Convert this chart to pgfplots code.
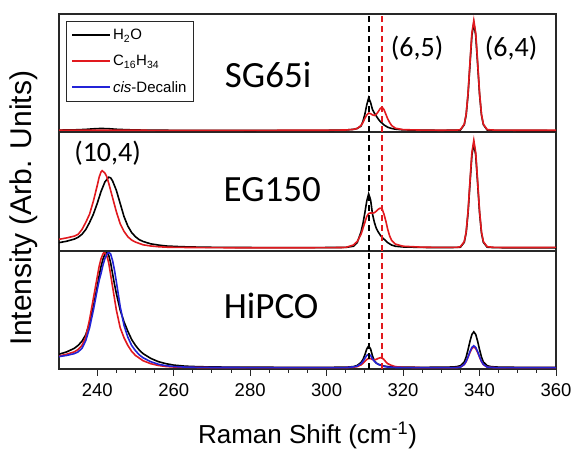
\documentclass[border=0pt]{standalone}
\usepackage{pgfplots}
\pgfplotsset{compat=1.18}
\usepackage{fontspec}
\setmainfont{Liberation Sans}
\newfontfamily\calfont{Carlito}
\definecolor{mred}{RGB}{225,25,30}
\definecolor{mblue}{RGB}{35,35,215}
\definecolor{frm}{RGB}{40,40,40}
\pgfplotsset{
  panel/.style={
    scale only axis, width=497pt,
    xmin=230, xmax=360, ymin=0, ymax=1,
    axis line style={frm, line width=1.3pt},
    tick style={frm, line width=1pt},
    tick align=outside,
    major tick length=7pt, minor tick length=4pt,
    xtick pos=bottom, ytick pos=left,
    ytick=\empty,
    /pgf/number format/assume math mode=true,
    every axis plot/.append style={line width=1.6pt},
    clip=true,
  },
  vdash/.style={line width=1.7pt, dash pattern=on 6pt off 4pt, forget plot},
}
\begin{document}
\begin{tikzpicture}
\useasboundingbox (0,0) rectangle (575pt,449pt);

% ---------------- bottom panel: HiPCO ----------------
\begin{axis}[panel, at={(59pt,80pt)}, anchor=south west, height=118pt,
  xtick={240,260,...,360}, minor x tick num=3,
  minor ytick={0.39,0.8},
  xticklabel style={font=\fontsize{18.5}{18.5}\selectfont, yshift=-4pt},
  xlabel={Raman Shift (cm\textsuperscript{-1})},
  xlabel style={font=\fontsize{26}{26}\selectfont, at={(axis description cs:0.5,-0.56)}, anchor=center},
]
\addplot[black] coordinates {(230,0.125) (232,0.145) (234,0.175) (235,0.2) (236,0.235) (237,0.29) (238,0.39) (239,0.53) (240,0.7) (240.5,0.79) (241,0.87) (241.5,0.93) (242,0.975) (242.5,0.99) (243,0.965) (243.5,0.9) (244,0.81) (244.5,0.72) (245,0.64) (246,0.5) (247,0.4) (248,0.32) (249,0.25) (250,0.2) (251,0.16) (252,0.13) (254,0.09) (256,0.062) (258,0.045) (260,0.033) (263,0.024) (266,0.02) (270,0.017) (280,0.015) (290,0.014) (300,0.014) (305,0.015) (307,0.02) (308,0.03) (309,0.055) (309.5,0.08) (310,0.12) (310.5,0.17) (311,0.195) (311.5,0.17) (312,0.11) (312.5,0.07) (313,0.05) (313.5,0.04) (314,0.035) (315,0.025) (316,0.02) (318,0.016) (320,0.015) (325,0.014) (330,0.015) (333,0.017) (334,0.02) (335,0.028) (336,0.059) (336.5,0.102) (337,0.165) (337.5,0.235) (338,0.293) (338.5,0.315) (339,0.293) (339.5,0.235) (340,0.165) (340.5,0.102) (341,0.059) (342,0.028) (343,0.02) (345,0.016) (350,0.014) (360,0.014)};
\addplot[mred] coordinates {(230,0.11) (232,0.125) (234,0.145) (235,0.165) (236,0.2) (237,0.27) (238,0.42) (239,0.6) (240,0.78) (240.5,0.87) (241,0.935) (241.5,0.975) (241.8,0.99) (242.5,0.96) (243,0.9) (243.5,0.8) (244,0.7) (245,0.5) (246,0.35) (247,0.265) (248,0.2) (249,0.15) (250,0.115) (252,0.07) (254,0.045) (256,0.03) (258,0.021) (260,0.017) (263,0.014) (270,0.012) (280,0.012) (290,0.012) (300,0.012) (305,0.012) (307,0.015) (308,0.02) (309,0.035) (309.5,0.048) (310,0.065) (310.5,0.08) (311,0.09) (311.5,0.088) (312,0.08) (312.5,0.078) (313,0.082) (313.5,0.09) (314,0.095) (314.5,0.095) (315,0.08) (315.5,0.06) (316,0.045) (317,0.03) (318,0.02) (320,0.014) (325,0.012) (330,0.012) (334,0.012) (335,0.016) (336,0.038) (336.5,0.063) (337,0.1) (337.5,0.141) (338,0.174) (338.5,0.187) (339,0.174) (339.5,0.141) (340,0.1) (340.5,0.063) (341,0.038) (342,0.016) (344,0.012) (350,0.012) (360,0.012)};
\addplot[mblue] coordinates {(230,0.105) (232,0.115) (234,0.13) (235,0.145) (236,0.175) (237,0.24) (238,0.35) (239,0.5) (240,0.67) (240.5,0.75) (241,0.81) (241.5,0.88) (242,0.935) (242.5,0.97) (243,0.99) (243.5,0.975) (244,0.92) (244.5,0.84) (245,0.74) (246,0.53) (247,0.37) (248,0.27) (249,0.2) (250,0.155) (251,0.12) (252,0.095) (254,0.062) (256,0.04) (258,0.028) (260,0.021) (263,0.016) (266,0.014) (270,0.013) (280,0.012) (290,0.012) (300,0.012) (305,0.012) (307,0.018) (308,0.025) (309,0.045) (309.5,0.065) (310,0.09) (310.5,0.115) (311,0.125) (311.5,0.115) (312,0.085) (312.5,0.065) (313,0.05) (313.5,0.04) (314,0.033) (315,0.022) (316,0.016) (318,0.013) (320,0.012) (325,0.012) (330,0.012) (334,0.012) (335,0.016) (336,0.039) (336.5,0.066) (337,0.104) (337.5,0.148) (338,0.183) (338.5,0.197) (339,0.183) (339.5,0.148) (340,0.104) (340.5,0.066) (341,0.039) (342,0.016) (344,0.012) (350,0.012) (360,0.012)};
\addplot[black, vdash] coordinates {(311.1,0) (311.1,1)};
\addplot[mred, vdash] coordinates {(314.4,0) (314.4,1)};
\node[font=\calfont\fontsize{37}{37}\selectfont] at (axis cs:285.5,0.534) {HiPCO};
\end{axis}

% ---------------- middle panel: EG150 ----------------
\begin{axis}[panel, at={(59pt,198pt)}, anchor=south west, height=119pt,
  xtick=\empty,
  minor ytick={0.186,0.372,0.558,0.744,0.93},
  ylabel={Intensity (Arb. Units)},
  ylabel style={font=\fontsize{30}{30}\selectfont, at={(axis description cs:-0.0704,0.361)}, anchor=center},
]
\addplot[black] coordinates {(230,0.07) (232,0.082) (234,0.1) (235,0.115) (236,0.14) (237,0.18) (238,0.24) (239,0.31) (240,0.4) (241,0.5) (242,0.58) (243,0.62) (243.5,0.615) (244,0.59) (245,0.51) (246,0.4) (247,0.29) (248,0.21) (249,0.155) (250,0.12) (251,0.095) (252,0.08) (254,0.06) (256,0.05) (258,0.042) (262,0.036) (266,0.033) (270,0.031) (280,0.029) (290,0.028) (300,0.029) (305,0.03) (307,0.04) (308,0.07) (309,0.16) (309.5,0.23) (310,0.32) (310.5,0.42) (311,0.48) (311.5,0.43) (312,0.31) (312.5,0.24) (313,0.19) (313.5,0.16) (314,0.135) (314.5,0.115) (315,0.1) (315.5,0.085) (316,0.07) (317,0.05) (318,0.04) (320,0.034) (325,0.03) (330,0.029) (334,0.03) (335,0.032) (336,0.073) (336.5,0.153) (337,0.323) (337.5,0.569) (338,0.805) (338.5,0.905) (339,0.805) (339.5,0.569) (340,0.323) (340.5,0.153) (341,0.073) (342,0.032) (344,0.028) (350,0.027) (360,0.027)};
\addplot[mred] coordinates {(230,0.098) (232,0.11) (234,0.125) (235,0.14) (236,0.18) (237,0.24) (238,0.31) (239,0.42) (240,0.55) (240.5,0.62) (241,0.665) (241.3,0.675) (242,0.655) (242.5,0.625) (243,0.57) (244,0.45) (245,0.33) (246,0.23) (247,0.165) (248,0.12) (249,0.092) (250,0.075) (252,0.052) (254,0.042) (256,0.036) (258,0.032) (262,0.03) (270,0.028) (280,0.027) (290,0.027) (300,0.028) (305,0.03) (307,0.05) (308,0.08) (309,0.14) (309.5,0.19) (310,0.24) (310.5,0.29) (311,0.315) (311.5,0.32) (312,0.318) (312.5,0.322) (313,0.335) (313.5,0.35) (314,0.36) (314.5,0.355) (315,0.31) (315.5,0.25) (316,0.18) (316.5,0.125) (317,0.09) (318,0.058) (320,0.04) (325,0.032) (330,0.03) (334,0.03) (335,0.036) (336,0.079) (336.5,0.161) (337,0.335) (337.5,0.586) (338,0.827) (338.5,0.93) (339,0.827) (339.5,0.586) (340,0.335) (340.5,0.161) (341,0.079) (342,0.036) (344,0.03) (350,0.029) (360,0.03)};
\addplot[black, vdash] coordinates {(311.1,0) (311.1,1)};
\addplot[mred, vdash] coordinates {(314.4,0) (314.4,1)};
\node[font=\calfont\fontsize{37}{37}\selectfont] at (axis cs:285.8,0.513) {EG150};
\node[font=\calfont\fontsize{28}{28}\selectfont] at (axis cs:242.7,0.82) {(10,4)};
\end{axis}

% ---------------- top panel: SG65i ----------------
\begin{axis}[panel, at={(59pt,317pt)}, anchor=south west, height=118pt,
  xtick=\empty,
  minor ytick={0.186,0.372,0.558,0.744,0.93},
  legend style={at={(0.014,0.94)}, anchor=north west, draw=frm,
    font=\fontsize{15}{15}\selectfont, row sep=10pt, inner xsep=5pt, inner ysep=6pt,
    cells={anchor=west}},
  legend image code/.code={\draw[mark repeat=2,mark phase=2] plot coordinates {(0pt,0pt) (19pt,0pt) (38pt,0pt)};},
]
\addlegendimage{black, line width=2pt}
\addlegendentry{H\textsubscript{2}O}
\addlegendimage{mred, line width=2pt}
\addlegendentry{C\textsubscript{16}H\textsubscript{34}}
\addlegendimage{mblue, line width=2pt}
\addlegendentry{\textit{cis}-Decalin}
\addplot[black, forget plot] coordinates {(230,0.016) (234,0.018) (237,0.022) (239,0.027) (241,0.03) (243,0.028) (245,0.023) (248,0.019) (252,0.016) (260,0.014) (280,0.013) (300,0.014) (305,0.017) (307,0.022) (308,0.03) (309,0.05) (309.5,0.09) (310,0.15) (310.5,0.23) (311,0.29) (311.5,0.25) (312,0.19) (312.5,0.16) (313,0.135) (313.5,0.11) (314,0.09) (314.5,0.075) (315,0.06) (315.5,0.05) (316,0.04) (317,0.03) (318,0.024) (320,0.018) (325,0.015) (330,0.014) (334,0.015) (335,0.017) (336,0.062) (336.5,0.145) (337,0.32) (337.5,0.574) (338,0.818) (338.5,0.922) (339,0.818) (339.5,0.574) (340,0.32) (340.5,0.145) (341,0.062) (342,0.017) (344,0.014) (350,0.013) (360,0.012)};
\addplot[mred, forget plot] coordinates {(230,0.016) (240,0.015) (260,0.014) (280,0.014) (300,0.015) (305,0.017) (307,0.022) (308,0.03) (309,0.055) (309.5,0.08) (310,0.115) (310.5,0.145) (311,0.16) (311.5,0.155) (312,0.145) (312.5,0.14) (313,0.15) (313.5,0.172) (314,0.198) (314.5,0.21) (315,0.19) (315.5,0.15) (316,0.11) (316.5,0.08) (317,0.055) (318,0.032) (320,0.02) (325,0.016) (330,0.015) (334,0.016) (335,0.02) (336,0.066) (336.5,0.151) (337,0.33) (337.5,0.59) (338,0.839) (338.5,0.945) (339,0.839) (339.5,0.59) (340,0.33) (340.5,0.151) (341,0.066) (342,0.02) (344,0.016) (350,0.015) (360,0.015)};
\addplot[black, vdash] coordinates {(311.1,0) (311.1,1)};
\addplot[mred, vdash] coordinates {(314.4,0) (314.4,1)};
\node[font=\calfont\fontsize{37}{37}\selectfont] at (axis cs:284.7,0.483) {SG65i};
\node[font=\calfont\fontsize{28}{28}\selectfont, anchor=west] at (axis cs:315.9,0.71) {(6,5)};
\node[font=\calfont\fontsize{28}{28}\selectfont, anchor=west] at (axis cs:340.5,0.71) {(6,4)};
\end{axis}
\end{tikzpicture}
\end{document}
